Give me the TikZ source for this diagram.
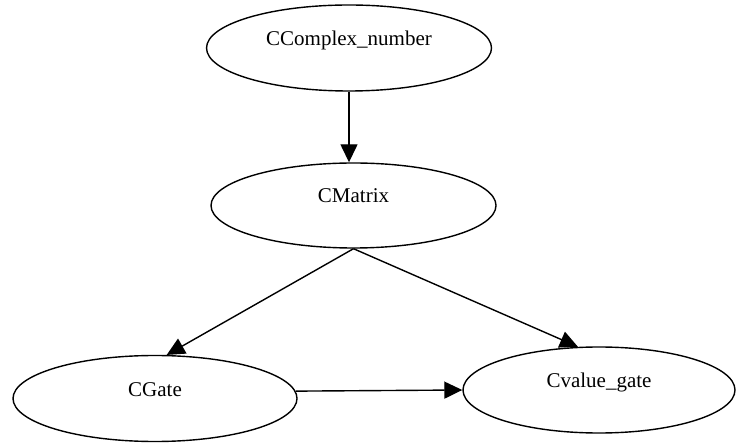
\documentclass[tikz,border=0pt]{standalone}
\usepackage{fontspec}
\setmainfont{Liberation Serif}
\usetikzlibrary{arrows.meta,shapes.geometric}
\begin{document}
\begin{tikzpicture}[x=1pt,y=-1pt,
  cls/.style={draw, ellipse, line width=1.4pt, inner sep=0pt,
    font=\fontsize{21}{21}\selectfont, text height=6pt, text depth=11pt},
  dep/.style={line width=1.4pt, -{Triangle[length=18pt,width=17pt]}}]
  \useasboundingbox (0,0) rectangle (736,443);
  % class nodes
  \node[cls, minimum width=285pt, minimum height=86pt] (cn) at (349,48) {CComplex\_number};
  \node[cls, minimum width=285pt, minimum height=85pt] (m) at (353.5,205.5) {CMatrix};
  \node[cls, minimum width=284pt, minimum height=86pt] (g) at (155,398.5) {CGate};
  \node[cls, minimum width=272pt, minimum height=86pt] (v) at (599,390) {Cvalue\_gate};
  % dependencies
  \draw[dep] (cn.south) -- (cn.south |- m.north);
  \draw[dep] (m.south) -- (g.75);
  \draw[dep] (m.south) -- (v.116);
  \draw[dep] (g.3) -- (v.west);
\end{tikzpicture}
\end{document}
